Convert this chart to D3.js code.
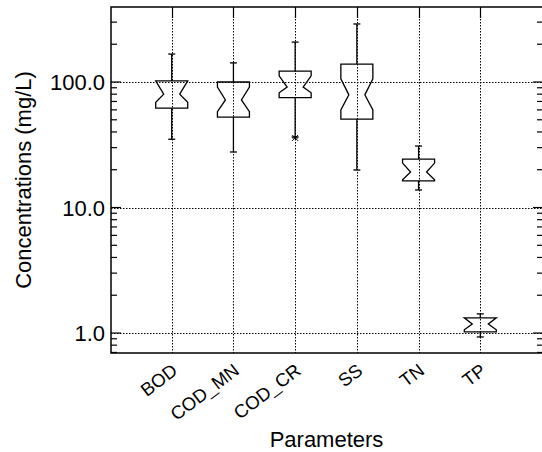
<!DOCTYPE html>
<html>
<head>
<meta charset="utf-8">
<script src="https://d3js.org/d3.v7.min.js"></script>
<style>
  body { margin: 0; background: #fff; overflow: hidden; }
  svg { display: block; }
  text { font-family: "Liberation Sans", Arial, sans-serif; fill: #000; }
</style>
</head>
<body>
<svg></svg>
<script>
const width = 542;
const height = 452;

// box plot statistics (mg/L)
const categories = ["BOD", "COD_MN", "COD_CR", "SS", "TN", "TP"];
const whisker_low = [35, 27.7, 36.5, 19.9, 13.8, 0.93];
const q1 = [62, 52.6, 75, 50.7, 16.3, 1.02];
const notch_low = [69, 58, 82, 60, 16.6, 1.06];
const median = [80, 72, 91, 79, 19.2, 1.18];
const notch_high = [102, 91, 112, 106, 22.6, 1.32];
const q3 = [102, 100, 122, 139, 24.3, 1.32];
const whisker_high = [167, 142, 208, 290, 30.9, 1.42];
const outliers = [{cat: "COD_CR", val: 36.5}];
const major_ticks = [1, 10, 100];

const plot_left = 111, plot_right = 542, plot_top = 7, plot_bottom = 353;
const half = 16, notch_half = 8, cap = 3.5;

let svg = d3.select('svg').attr('width', width).attr('height', height);

let x = d3.scalePoint().domain(categories).range([plot_left - 1, plot_right]).padding(1);
let y = d3.scaleLog().domain([0.693, 396]).range([plot_bottom, plot_top]);

let boxes = categories.map((c, i) => ({
    cat: c, lo: whisker_low[i], q1: q1[i], nlo: notch_low[i], med: median[i],
    nhi: notch_high[i], q3: q3[i], hi: whisker_high[i]
}));

// dotted grid lines
let grid = svg.append('g')
    .attr('stroke', '#000').attr('stroke-width', 1).attr('stroke-dasharray', '1.5,1.5');
grid.selectAll('.h').data(major_ticks).enter().append('line')
    .attr('x1', plot_left).attr('x2', plot_right)
    .attr('y1', d => Math.round(y(d)) + 0.5).attr('y2', d => Math.round(y(d)) + 0.5);
grid.selectAll('.v').data(categories).enter().append('line')
    .attr('x1', d => Math.round(x(d)) + 0.5).attr('x2', d => Math.round(x(d)) + 0.5)
    .attr('y1', plot_top).attr('y2', plot_bottom);

// frame: left, top and bottom only (right edge falls off the picture)
svg.append('path')
    .attr('d', `M${plot_right + 2},${plot_top}H${plot_left}V${plot_bottom}H${plot_right + 2}`)
    .attr('fill', 'none').attr('stroke', '#000').attr('stroke-width', 1.5);

// ticks on left and right edges, top ticks at categories
let ticks = svg.append('g').attr('stroke', '#000').attr('stroke-width', 1.2);
let all_ticks = y.ticks().filter(t => y(t) >= plot_top && y(t) <= plot_bottom);
let tick_len = t => major_ticks.includes(t) ? 10 : 6;
ticks.selectAll('.l').data(all_ticks).enter().append('line')
    .attr('x1', plot_left).attr('x2', t => plot_left + tick_len(t))
    .attr('y1', t => y(t)).attr('y2', t => y(t));
ticks.selectAll('.r').data(all_ticks).enter().append('line')
    .attr('x1', plot_right + 1).attr('x2', t => plot_right + 1 - tick_len(t))
    .attr('y1', t => y(t)).attr('y2', t => y(t));
ticks.selectAll('.t').data(categories).enter().append('line')
    .attr('x1', d => Math.round(x(d)) + 0.5).attr('x2', d => Math.round(x(d)) + 0.5)
    .attr('y1', plot_top).attr('y2', plot_top + 11);

// notched boxes with whiskers
let g = svg.append('g').attr('stroke', '#000').attr('stroke-width', 1.3).attr('fill', 'none');
let box_path = b => {
    let cx = x(b.cat);
    return d3.line()([
        [cx - half, y(b.q3)], [cx + half, y(b.q3)], [cx + half, y(b.nhi)],
        [cx + notch_half, y(b.med)], [cx + half, y(b.nlo)], [cx + half, y(b.q1)],
        [cx - half, y(b.q1)], [cx - half, y(b.nlo)], [cx - notch_half, y(b.med)],
        [cx - half, y(b.nhi)]
    ]) + 'Z';
};
g.selectAll('.box').data(boxes).enter().append('path').attr('d', box_path);
g.selectAll('.wu').data(boxes).enter().append('line')
    .attr('x1', b => x(b.cat)).attr('x2', b => x(b.cat))
    .attr('y1', b => y(b.q3)).attr('y2', b => y(b.hi));
g.selectAll('.wl').data(boxes).enter().append('line')
    .attr('x1', b => x(b.cat)).attr('x2', b => x(b.cat))
    .attr('y1', b => y(b.q1)).attr('y2', b => y(b.lo));
g.selectAll('.cu').data(boxes).enter().append('line')
    .attr('x1', b => x(b.cat) - cap).attr('x2', b => x(b.cat) + cap)
    .attr('y1', b => y(b.hi)).attr('y2', b => y(b.hi));
g.selectAll('.cl').data(boxes).enter().append('line')
    .attr('x1', b => x(b.cat) - cap).attr('x2', b => x(b.cat) + cap)
    .attr('y1', b => y(b.lo)).attr('y2', b => y(b.lo));

// outlier stars
g.selectAll('.out').data(outliers).enter().append('path')
    .attr('stroke-width', 1)
    .attr('d', o => {
        let cx = x(o.cat), cy = y(o.val) + 1, r = 3;
        return `M${cx - r},${cy - r}L${cx + r},${cy + r}M${cx + r},${cy - r}L${cx - r},${cy + r}M${cx - r},${cy}L${cx + r},${cy}`;
    });

// y tick labels
svg.selectAll('.yl').data(major_ticks).enter().append('text')
    .attr('x', 105).attr('y', d => y(d) + 8)
    .attr('text-anchor', 'end').attr('font-size', 22)
    .text(d => d3.format('.1f')(d));

// x tick labels, rotated
svg.selectAll('.xl').data(categories).enter().append('text')
    .attr('transform', d => `translate(${x(d) + 7},${373}) rotate(-37)`)
    .attr('text-anchor', 'end').attr('font-size', 18.5)
    .text(d => d);

// axis titles
svg.append('text')
    .attr('x', (plot_left + plot_right) / 2).attr('y', 447)
    .attr('text-anchor', 'middle').attr('font-size', 22)
    .text('Parameters');
svg.append('text')
    .attr('transform', `translate(31,${180}) rotate(-90)`)
    .attr('text-anchor', 'middle').attr('font-size', 22)
    .text('Concentrations (mg/L)');
</script>
</body>
</html>
